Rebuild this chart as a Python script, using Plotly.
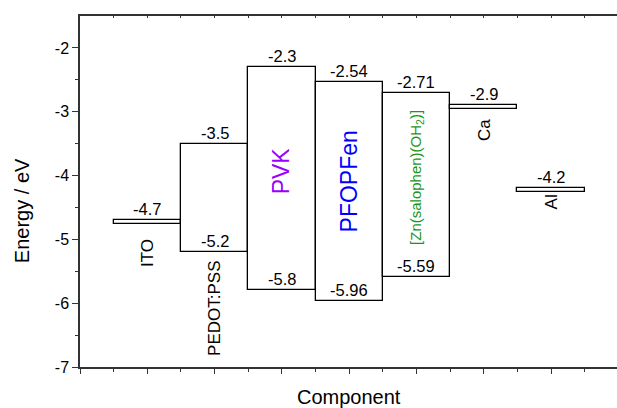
import plotly.graph_objects as go

# ---- data ----
components = ["ITO", "PEDOT:PSS", "PVK", "PFOPFen",
              "[Zn(salophen)(OH<sub>2</sub>)]", "Ca", "Al"]
upper_level = [-4.7, -3.5, -2.3, -2.54, -2.71, -2.9, -4.2]      # LUMO / work function
lower_level = [None, -5.2, -5.8, -5.96, -5.59, None, None]       # HOMO (None = electrode)
name_colors = ["black", "black", "#9900FF", "#0000FF", "#1A961A", "black", "black"]
y_tick_vals = [-2, -3, -4, -5, -6, -7]
y_tick_text = ["-2", "-3", "-4", "-5", "-6", "-7"]
x_title = "Component"
y_title = "Energy / eV"

# ---- layout choices (not data) ----
electrode_thickness = 0.055
name_y = [-5.21, -6.08, -3.92, -4.09, -4.03, -3.29, -4.42]
name_size = [17, 17, 23, 23, 15, 17, 17]
FONT = "Arial, Liberation Sans, sans-serif"

xs = list(range(1, len(components) + 1))
bases, heights = [], []
for u, l in zip(upper_level, lower_level):
    if l is None:
        bases.append(u - electrode_thickness)
        heights.append(electrode_thickness)
    else:
        bases.append(l)
        heights.append(u - l)

fig = go.Figure()
fig.add_trace(go.Bar(
    x=xs, y=heights, base=bases, width=1,
    marker=dict(color="white", line=dict(color="black", width=1.3)),
    hoverinfo="skip", showlegend=False,
))
# invisible trace to activate top (mirror) axis
fig.add_trace(go.Scatter(x=[0], y=[-7], xaxis="x2", mode="markers",
                         marker=dict(opacity=0), showlegend=False, hoverinfo="skip"))

ann = []
for x, u, l in zip(xs, upper_level, lower_level):
    ann.append(dict(x=x, y=u, text=f"{u:g}", showarrow=False, yshift=11,
                    font=dict(size=16.5, color="black", family=FONT)))
    if l is not None:
        ann.append(dict(x=x, y=l, text=f"{l:g}", showarrow=False, yshift=11,
                        font=dict(size=16.5, color="black", family=FONT)))
for x, name, c, ny, s in zip(xs, components, name_colors, name_y, name_size):
    ann.append(dict(x=x, y=ny, text=name, showarrow=False, textangle=-90,
                    font=dict(size=s, color=c, family=FONT)))

XR = [0, 7.98]
# axis titles
ann.append(dict(xref="x", yref="paper", x=sum(XR) / 2, y=0, yshift=-30,
                xanchor="center", yanchor="middle",
                text=x_title, showarrow=False, font=dict(size=20, family=FONT)))
ann.append(dict(xref="paper", yref="paper", x=0, xshift=-58, y=0.444,
                xanchor="center", yanchor="middle",
                text=y_title, showarrow=False, textangle=-90,
                font=dict(size=20, family=FONT)))

fig.update_layout(
    width=617, height=408,
    margin=dict(l=80, r=0, t=16, b=41, autoexpand=False),
    paper_bgcolor="white", plot_bgcolor="white",
    font=dict(family=FONT, color="black"),
    annotations=ann,
    bargap=0,
    xaxis=dict(range=XR, tick0=0, dtick=1, showticklabels=False, automargin=False,
               ticks="outside", ticklen=5, tickwidth=1.3, tickcolor="#333",
               showline=True, linecolor="#333", linewidth=1.5,
               showgrid=False, zeroline=False,
               minor=dict(ticks="outside", ticklen=3, dtick=0.5, tick0=0,
                          tickcolor="#333", tickwidth=1.3, showgrid=False)),
    xaxis2=dict(range=XR, overlaying="x", side="top", tick0=0, dtick=0.5,
                showticklabels=False, ticks="inside", ticklen=2, automargin=False,
                tickcolor="#333", tickwidth=1.3,
                showline=True, linecolor="#333", linewidth=1.5,
                showgrid=False, zeroline=False),
    yaxis=dict(range=[-7, -1.5], tickmode="array", tickvals=y_tick_vals,
               ticktext=y_tick_text, ticks="outside", ticklen=6, automargin=False,
               tickwidth=1.3, tickcolor="#333",
               showline=True, linecolor="#333", linewidth=1.5,
               showgrid=False, zeroline=False,
               tickfont=dict(size=16, family=FONT),
               minor=dict(ticks="outside", ticklen=3,
                          tickvals=[-2.5, -3.5, -4.5, -5.5, -6.5],
                          tickcolor="#333", tickwidth=1.3, showgrid=False)),
)

fig.write_html(
    "out.html",
    config={"displayModeBar": False},
    post_script="document.body.style.margin='0px';"
                "document.documentElement.style.overflow='hidden';",
)
